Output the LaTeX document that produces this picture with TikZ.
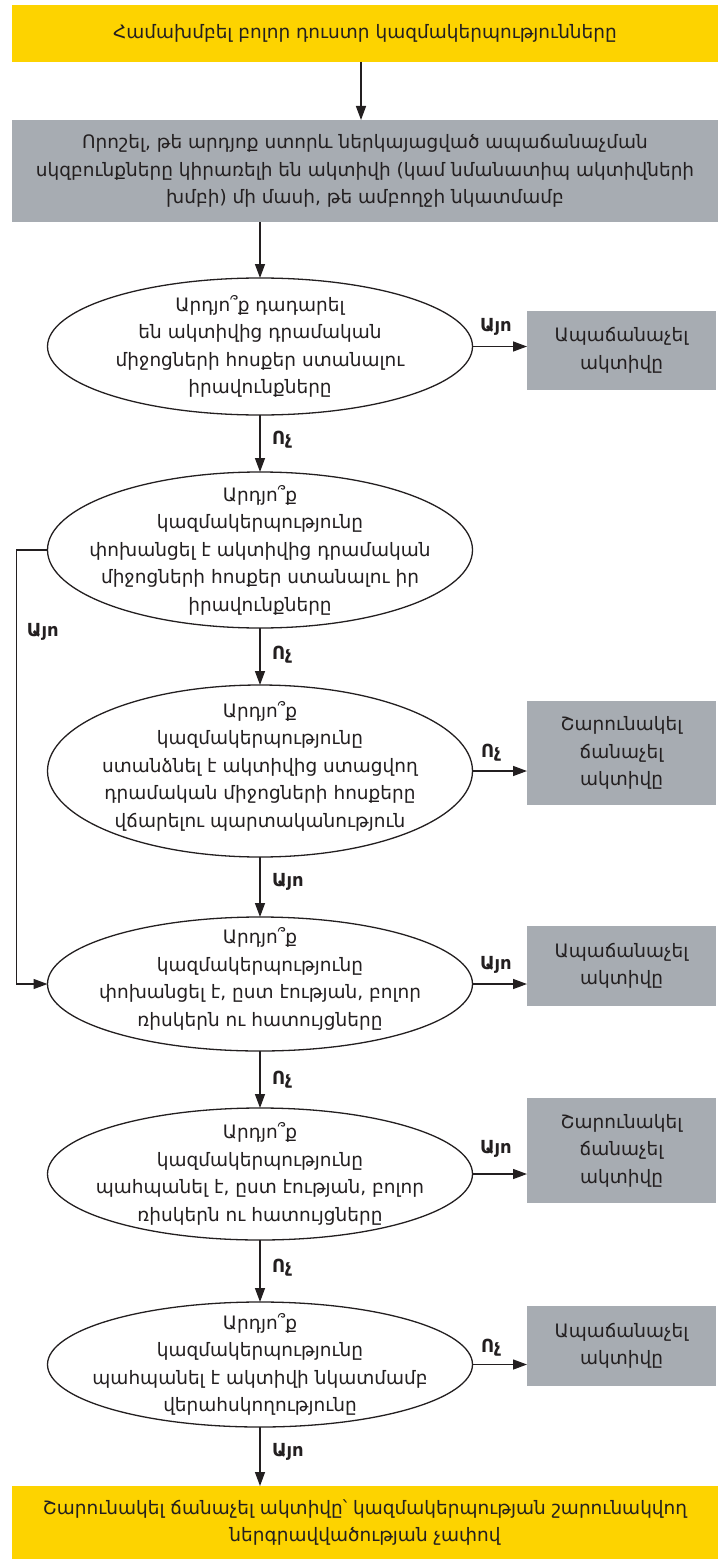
\documentclass[tikz,border=0pt]{standalone}
\usepackage{fontspec}
\setmainfont{DejaVu Sans}
\usetikzlibrary{shapes.geometric,arrows.meta}
\definecolor{yel}{HTML}{FDD300}
\definecolor{gry}{HTML}{A7ACB2}
\definecolor{ink}{HTML}{231F20}
\begin{document}
\begin{tikzpicture}[x=1pt,y=-1pt,
  every node/.style={text=ink, font=\fontsize{18.5}{27.5}\selectfont, align=center, inner sep=0pt, outer sep=0pt},
  ybox/.style={fill=yel, minimum width=706pt},
  gbox/.style={fill=gry, minimum width=189pt},
  wbox/.style={fill=gry, minimum width=706pt},
  qell/.style={ellipse, draw=ink, line width=1.3pt, fill=white, minimum width=425pt},
  lbl/.style={font=\bfseries\fontsize{18}{20}\selectfont, anchor=west},
  arr/.style={draw=ink, line width=1.4pt, -{Triangle[length=14pt,width=10pt]}}]
\useasboundingbox (0,0) rectangle (723,1560);
% boxes
\node[ybox, minimum height=57pt] (top) at (365,33.5) {Համախմբել բոլոր դուստր կազմակերպությունները};
\node[wbox, minimum height=102pt] (g1) at (365,171) {Որոշել, թե արդյոք ստորև ներկայացված ապաճանաչման\\սկզբունքները կիրառելի են ակտիվի (կամ նմանատիպ ակտիվների\\խմբի) մի մասի, թե ամբողջի նկատմամբ};
% ellipses
\node[qell, minimum height=137pt] (e1) at (260,346.5) {};
\node (t1) at (e1.center) {Արդյո՞ք դադարել\\են ակտիվից դրամական\\միջոցների հոսքեր ստանալու\\իրավունքները};
\node[qell, minimum height=156pt] (e2) at (260,550) {};
\node (t2) at (e2.center) {Արդյո՞ք\\կազմակերպությունը\\փոխանցել է ակտիվից դրամական\\միջոցների հոսքեր ստանալու իր\\իրավունքները};
\node[qell, minimum height=172pt] (e3) at (260,771) {};
\node (t3) at ([yshift=5pt]e3.center) {Արդյո՞ք\\կազմակերպությունը\\ստանձնել է ակտիվից ստացվող\\դրամական միջոցների հոսքերը\\վճարելու պարտականություն};
\node[qell, minimum height=134pt] (e4) at (260,984) {};
\node (t4) at ([yshift=5pt]e4.center) {Արդյո՞ք\\կազմակերպությունը\\փոխանցել է, ըստ էության, բոլոր\\ռիսկերն ու հատույցները};
\node[qell, minimum height=132pt] (e5) at (260,1174) {};
\node (t5) at (e5.center) {Արդյո՞ք\\կազմակերպությունը\\պահպանել է, ըստ էության, բոլոր\\ռիսկերն ու հատույցները};
\node[qell, minimum height=125pt] (e6) at (260,1364.5) {};
\node (t6) at (e6.center) {Արդյո՞ք\\կազմակերպությունը\\պահպանել է ակտիվի նկատմամբ\\վերահսկողությունը};
% right boxes
\node[gbox, minimum height=79pt] (r1) at (621.5,350.5) {Ապաճանաչել\\ակտիվը};
\node[gbox, minimum height=104pt] (r2) at (621.5,753) {Շարունակել\\ճանաչել\\ակտիվը};
\node[gbox, minimum height=80pt] (r3) at (621.5,966) {Ապաճանաչել\\ակտիվը};
\node[gbox, minimum height=105pt] (r4) at (621.5,1150.5) {Շարունակել\\ճանաչել\\ակտիվը};
\node[gbox, minimum height=80pt] (r5) at (621.5,1346) {Ապաճանաչել\\ակտիվը};
% bottom
\node[ybox, minimum height=73pt] (bot) at (365,1522.5) {Շարունակել ճանաչել ակտիվը՝ կազմակերպության շարունակվող\\ներգրավվածության չափով};
% arrows
\draw[arr] ([xshift=-4pt]top.south) -- ([xshift=-4pt]g1.north);
\draw[arr] (e1.north |- g1.south) -- (e1.north);
\draw[arr] (e1.south) -- (e2.north);
\draw[arr] (e2.south) -- (e3.north);
\draw[arr] (e3.south) -- (e4.north);
\draw[arr] (e4.south) -- (e5.north);
\draw[arr] (e5.south) -- (e6.north);
\draw[arr] (e6.south) -- (e6.south |- bot.north);
\draw[arr] (e1.east) -- (e1.east -| r1.west);
\draw[arr] (e3.east) -- (e3.east -| r2.west);
\draw[arr] (e4.east) -- (e4.east -| r3.west);
\draw[arr] (e5.east) -- (e5.east -| r4.west);
\draw[arr] (e6.east) -- (e6.east -| r5.west);
\draw[arr] (e2.west) -- ++(-31,0) |- (e4.west);
% labels
\node[lbl] (l1) at (480,327) {Այո};
\node[lbl] (l2) at (272,440) {Ոչ};
\node[lbl] (l3) at (27,632) {Այո};
\node[lbl] (l4) at (272,655) {Ոչ};
\node[lbl] (l5) at (481,753) {Ոչ};
\node[lbl] (l6) at (272,882) {Այո};
\node[lbl] (l7) at (480,965) {Այո};
\node[lbl] (l8) at (272,1080) {Ոչ};
\node[lbl] (l9) at (480,1149) {Այո};
\node[lbl] (l10) at (272,1268) {Ոչ};
\node[lbl] (l11) at (481,1348) {Ոչ};
\node[lbl] (l12) at (272,1452) {Այո};
\end{tikzpicture}
\end{document}
